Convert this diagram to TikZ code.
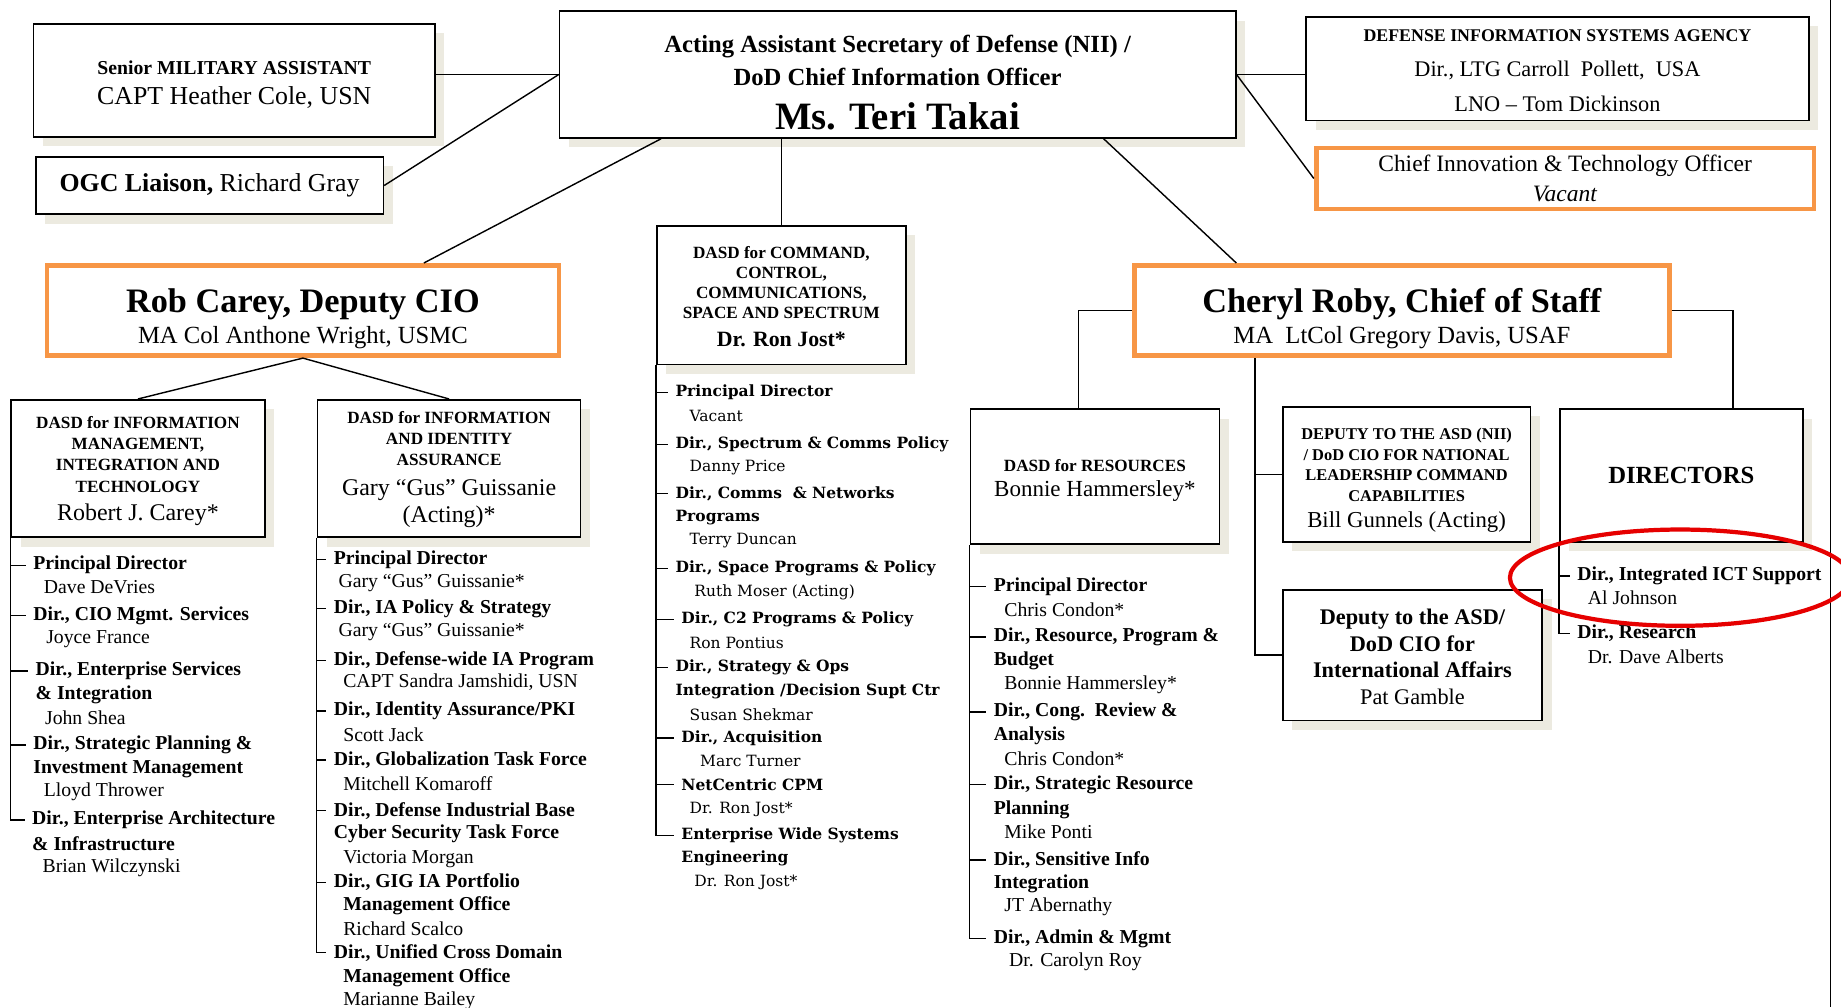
\documentclass[tikz,border=0pt]{standalone}
\usepackage{fontspec}
\setmainfont{Liberation Serif}
\newfontfamily\wideserif{DejaVu Serif}
\usetikzlibrary{positioning, calc, shadows}

\definecolor{orangeline}{HTML}{F79646}
\definecolor{shadowtan}{HTML}{ECEAE0}
\definecolor{circlered}{HTML}{E60000}

\newcommand\boxname[1]{{\fontsize{10.2}{11.5}\selectfont\mdseries #1}}
\newcommand\lift[1]{\rule{0pt}{#1}}

\tikzset{
  box/.style={draw, line width=0.7pt, fill=white, align=center, inner sep=1pt,
    drop shadow={shadow xshift=4pt, shadow yshift=-4pt, fill=shadowtan, opacity=1}},
  hotbox/.style={draw=orangeline, line width=2pt, fill=white, align=center, inner sep=1pt},
  ttl/.style={anchor=west, inner xsep=3pt, inner ysep=0pt, yshift=-0.7pt, font=\fontsize{8.4}{10}\selectfont\bfseries},
  nm/.style={anchor=west, inner xsep=3pt, inner ysep=0pt, yshift=-0.7pt, font=\fontsize{8.4}{10}\selectfont},
  wttl/.style={ttl, font=\wideserif\fontsize{6.6}{8}\selectfont\bfseries},
  wnm/.style={nm, font=\wideserif\fontsize{6.6}{8}\selectfont},
  wire/.style={line width=0.6pt}
}

\begin{document}
\begin{tikzpicture}[x=0.5pt, y=-0.5pt]
  \useasboundingbox (0,0) rectangle (1568,858);
  \fill[white] (0,0) rectangle (1568,858);

  % Front office
  \node[box, minimum width=288pt, minimum height=54pt, font=\fontsize{10.5}{14}\selectfont\bfseries] (top) at (764.5,63.5)
    {\lift{14.3pt}Acting Assistant Secretary of Defense (NII) /\\DoD Chief Information Officer\\[5pt]{\fontsize{16.5}{18}\selectfont Ms. Teri Takai}};
  \node[box, minimum width=171pt, minimum height=48pt, font=\fontsize{11}{13}\selectfont] (sma) at (199.5,68.5)
    {{\fontsize{8.4}{10}\selectfont\bfseries\lift{9.3pt}Senior MILITARY ASSISTANT}\\CAPT Heather Cole, USN};
  \node[box, minimum width=148pt, minimum height=24.5pt, font=\fontsize{11}{12}\selectfont] (ogc) at (178.5,158)
    {\textbf{OGC Liaison,} Richard Gray};
  \node[box, minimum width=214pt, minimum height=44pt, font=\fontsize{9.5}{14.8}\selectfont] (disa) at (1326.5,58.5)
    {{\fontsize{7.6}{9}\selectfont\bfseries\lift{6.6pt}DEFENSE INFORMATION SYSTEMS AGENCY}\\Dir., LTG Carroll\ \ Pollett,\ \ USA\\LNO – Tom Dickinson};
  \node[hotbox, minimum width=212pt, minimum height=26pt, font=\fontsize{10}{12.5}\selectfont] (cito) at (1333,152)
    {Chief Innovation \& Technology Officer\\\textit{Vacant}};

  % Deputies
  \node[hotbox, minimum width=218pt, minimum height=38.5pt, font=\fontsize{10.5}{13}\selectfont] (rob) at (258,264.5)
    {{\fontsize{14.6}{16}\selectfont\bfseries\lift{17.1pt}Rob Carey, Deputy CIO}\\MA Col Anthone Wright, USMC};
  \node[box, minimum width=106pt, minimum height=59pt, font=\fontsize{7.3}{8.5}\selectfont\bfseries] (ccc) at (665.5,251.5)
    {\lift{6.5pt}DASD for COMMAND,\\CONTROL,\\COMMUNICATIONS,\\SPACE AND SPECTRUM\\[3.5pt]{\fontsize{9.3}{10}\selectfont Dr. Ron Jost*}};
  \node[hotbox, minimum width=228pt, minimum height=38.5pt, font=\fontsize{10.5}{13}\selectfont] (roby) at (1194,264.5)
    {{\fontsize{14.6}{16}\selectfont\bfseries\lift{17.1pt}Cheryl Roby, Chief of Staff}\\MA\ \ LtCol Gregory Davis, USAF};

  % DASDs and deputies
  \node[box, minimum width=108pt, minimum height=58.5pt, font=\fontsize{7.3}{9}\selectfont\bfseries] (imit) at (117.5,399)
    {\lift{7.3pt}DASD for INFORMATION\\MANAGEMENT,\\INTEGRATION AND\\TECHNOLOGY\\[3pt]\boxname{Robert J. Carey*}};
  \node[box, minimum width=112pt, minimum height=58.5pt, font=\fontsize{7.3}{9}\selectfont\bfseries] (iia) at (382.5,399)
    {\lift{6.3pt}DASD for INFORMATION\\AND IDENTITY\\ASSURANCE\\[3.5pt]\boxname{Gary “Gus” Guissanie}\\[1.5pt]\boxname{(Acting)*}};
  \node[box, minimum width=106pt, minimum height=57.5pt, font=\fontsize{7.3}{11}\selectfont\bfseries] (res) at (932.5,406)
    {\lift{8.3pt}DASD for RESOURCES\\{\fontsize{9.8}{11}\selectfont\mdseries Bonnie Hammersley*}};
  \node[box, minimum width=105.5pt, minimum height=57.5pt, font=\fontsize{7}{8.7}\selectfont\bfseries] (nlcc) at (1198,404)
    {\lift{10.1pt}DEPUTY TO THE ASD (NII)\\/ DoD CIO FOR NATIONAL\\LEADERSHIP COMMAND\\CAPABILITIES\\[2.5pt]{\fontsize{9.7}{11}\selectfont\mdseries Bill Gunnels (Acting)}};
  \node[box, minimum width=103.5pt, minimum height=56.5pt, font=\fontsize{10.5}{12}\selectfont\bfseries] (dirs) at (1432,405)
    {DIRECTORS};
  \node[box, minimum width=110.5pt, minimum height=55.5pt, font=\fontsize{9.5}{11.3}\selectfont\bfseries] (intl) at (1203,558)
    {\lift{8.2pt}Deputy to the ASD/\\DoD CIO for\\International Affairs\\{\mdseries Pat Gamble}};

  % Connect the boxes
  \draw[wire] (top.west -| sma.east) -- (top.west);
  \draw[wire] (ogc.east) -- (top.west);
  \draw[wire] (top.east) -- (top.east -| disa.west);
  \draw[wire] (top.east) -- (cito.west);
  \draw[wire] ($(top.south)+(-201.5,0)$) -- ($(rob.north)+(103,0)$);
  \draw[wire] (ccc.north |- top.south) -- (ccc.north);
  \draw[wire] ($(top.south)+(175.5,0)$) -- ($(roby.north)+(-141,0)$);
  \draw[wire] (rob.south) -- (imit.north);
  \draw[wire] (rob.south) -- (iia.north);
  \draw[wire] (roby.west) -| ($(res.north)+(-14,0)$);
  \draw[wire] (roby.east) -| ($(dirs.north)+(44,0)$);
  \coordinate (rbus) at ($(roby.south)+(-125,0)$);
  \draw[wire] (rbus) |- (intl.west);
  \draw[wire] (rbus |- nlcc.west) -- (nlcc.west);

  % IMIT directorates
  \foreach \x/\y/\t [count=\k] in {22/480/{Principal Director}, 22/523/{Dir., CIO Mgmt. Services},
      24/570/{Dir., Enterprise Services}, 22/633/{Dir., Strategic Planning \&}, 21/697/{Dir., Enterprise Architecture}}
    \node[ttl] (imit\k) at (\x,\y) {\t};
  \foreach \x/\y/\t [count=\k] in {24/590/{\& Integration}, 22/654/{Investment Management}, 21/717/{\& Infrastructure}}
    \node[ttl] (imitc\k) at (\x,\y) {\t};
  \foreach \x/\y/\t [count=\k] in {31/499/{Dave DeVries}, 33/543/{Joyce France}, 32/610/{John Shea},
      31/673/{Lloyd Thrower}, 30/738/{Brian Wilczynski}}
    \node[nm] (imitn\k) at (\x,\y) {\t};
  \foreach \k in {1,...,4}
    \draw[wire] (imit.south west |- imit\k.west) -- (imit\k.west);
  \draw[wire] (imit.south west) |- (imit5.west);

  % IIA directorates
  \foreach \y/\t [count=\k] in {475/{Principal Director}, 517/{Dir., IA Policy \& Strategy}, 561/{Dir., Defense-wide IA Program},
      604/{Dir., Identity Assurance/PKI}, 646/{Dir., Globalization Task Force}, 689/{Dir., Defense Industrial Base},
      750/{Dir., GIG IA Portfolio}, 810/{Dir., Unified Cross Domain}}
    \node[ttl] (iia\k) at (278,\y) {\t};
  \foreach \x/\y/\t [count=\k] in {278/709/{Cyber Security Task Force}, 286/770/{Management Office}, 286/831/{Management Office}}
    \node[ttl] (iiac\k) at (\x,\y) {\t};
  \foreach \x/\y/\t [count=\k] in {282/495/{Gary “Gus” Guissanie*}, 282/537/{Gary “Gus” Guissanie*},
      286/580/{CAPT Sandra Jamshidi, USN}, 286/624/{Scott Jack}, 286/666/{Mitchell Komaroff},
      286/730/{Victoria Morgan}, 286/790/{Richard Scalco}, 286/851/{Marianne Bailey}}
    \node[nm] (iian\k) at (\x,\y) {\t};
  \foreach \k in {1,...,7}
    \draw[wire] (iia.south west |- iia\k.west) -- (iia\k.west);
  \draw[wire] (iia.south west) |- (iia8.west);

  % C3 directorates
  \foreach \x/\y/\t [count=\k] in {569/333/{Principal Director}, 569/377/{Dir., Spectrum \& Comms Policy},
      569/419/{Dir., Comms\ \ \& Networks}, 569/483/{Dir., Space Programs \& Policy}, 574/526/{Dir., C2 Programs \& Policy},
      569/567/{Dir., Strategy \& Ops}, 574/627/{Dir., Acquisition}, 574/667/{NetCentric CPM}, 574/710/{Enterprise Wide Systems}}
    \node[wttl] (ccc\k) at (\x,\y) {\t};
  \foreach \x/\y/\t [count=\k] in {569/439/{Programs}, 569/587/{Integration /Decision Supt Ctr}, 574/730/{Engineering}}
    \node[wttl] (cccc\k) at (\x,\y) {\t};
  \foreach \x/\y/\t [count=\k] in {581/353/{Vacant}, 581/397/{Danny Price}, 581/459/{Terry Duncan},
      585/503/{Ruth Moser (Acting)}, 581/546/{Ron Pontius}, 581/607/{Susan Shekmar}, 590/647/{Marc Turner},
      581/688/{Dr. Ron Jost*}, 585/750/{Dr. Ron Jost*}}
    \node[wnm] (cccn\k) at (\x,\y) {\t};
  \foreach \k in {1,...,8}
    \draw[wire] (ccc.south west |- ccc\k.west) -- (ccc\k.west);
  \draw[wire] (ccc.south west) |- (ccc9.west);

  % Resources directorates
  \foreach \y/\t [count=\k] in {498/{Principal Director}, 541/{Dir., Resource, Program \&}, 605/{Dir., Cong.\ \ Review \&},
      667/{Dir., Strategic Resource}, 731/{Dir., Sensitive Info}, 798/{Dir., Admin \& Mgmt}}
    \node[ttl] (res\k) at (840,\y) {\t};
  \foreach \y/\t [count=\k] in {561/{Budget}, 625/{Analysis}, 688/{Planning}, 751/{Integration}}
    \node[ttl] (resc\k) at (840,\y) {\t};
  \foreach \x/\y/\t [count=\k] in {849/518/{Chris Condon*}, 849/582/{Bonnie Hammersley*}, 849/645/{Chris Condon*},
      849/707/{Mike Ponti}, 849/771/{JT Abernathy}, 853/818/{Dr. Carolyn Roy}}
    \node[nm] (resn\k) at (\x,\y) {\t};
  \foreach \k in {1,...,5}
    \draw[wire] (res.south west |- res\k.west) -- (res\k.west);
  \draw[wire] (res.south west) |- (res6.west);

  % Directors
  \node[ttl] (dirs1) at (1337,489) {Dir., Integrated ICT Support};
  \node[nm] (dirsn1) at (1346,508) {Al Johnson};
  \node[ttl] (dirs2) at (1337,538) {Dir., Research};
  \node[nm] (dirsn2) at (1346,558) {Dr. Dave Alberts};
  \draw[wire] (dirs.south west |- dirs1.west) -- (dirs1.west);
  \draw[wire] (dirs.south west) |- (dirs2.west);

  % Page edge and highlight
  \draw[wire] (1559,0) -- (1559,858);
  \draw[circlered, line width=1.8pt] (1431,492) ellipse [x radius=145, y radius=41];
\end{tikzpicture}
\end{document}
